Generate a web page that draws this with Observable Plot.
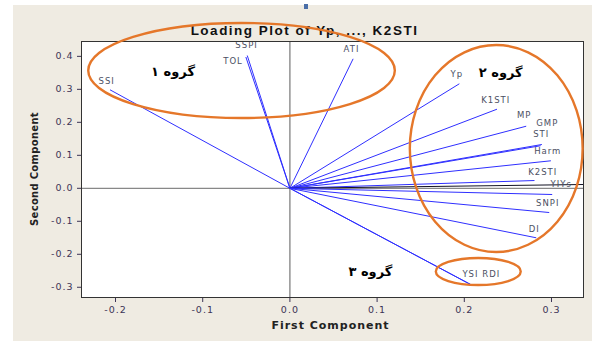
<!DOCTYPE html>
<html>
<head>
<meta charset="utf-8">
<script src="https://cdn.jsdelivr.net/npm/d3@7"></script>
<script src="https://cdn.jsdelivr.net/npm/@observablehq/plot@0.6"></script>
<style>
  html, body { margin: 0; padding: 0; background: #ffffff; }
  #wrap { position: absolute; left: 13px; top: 5px; width: 579px; height: 336px; background: #efebe2; }
  #mark { position: absolute; left: 304px; top: 4px; width: 4px; height: 5px; background: #4a6ea8; }
</style>
</head>
<body>
<div id="wrap"></div>
<div id="mark"></div>
<script>
// ---- data ----
const variables = ["SSI","SSPI","TOL","ATI","Yp","K1STI","MP","GMP","STI","Harm","K2STI","YIYs","YI","SNPI","DI","YSI","RDI"];
const pc1 = [-0.2063,-0.0489,-0.0505,0.0725,0.1943,0.2375,0.2710,0.2890,0.2875,0.2993,0.2805,0.3363,0.3008,0.2974,0.2825,0.2095,0.2085];
const pc2 = [0.2986,0.4025,0.3980,0.3925,0.3168,0.2398,0.1882,0.1328,0.1290,0.0834,0.0236,0.0115,-0.0188,-0.0734,-0.1500,-0.2946,-0.2935];

const labelText = ["SSI","SSPI","TOL","ATI","Yp","K1STI","MP","GMP","STI","Harm","K2STI","YIYs","SNPI","DI","YSI RDI"];
const labelPC1 = [-0.2101,-0.0497,-0.0652,0.0706,0.1914,0.2361,0.2687,0.2951,0.2882,0.2957,0.2899,0.3111,0.2957,0.2802,0.2195];
const labelPC2 = [0.3253,0.4329,0.3859,0.4222,0.3465,0.2677,0.2222,0.1979,0.1646,0.1115,0.0494,0.0115,-0.0446,-0.1234,-0.2613];

const groupNames = ["گروه ۱","گروه ۲","گروه ۳"];
const groupPC1 = [-0.134, 0.2418, 0.0923];
const groupPC2 = [0.3525, 0.351, -0.2522];

// hand-drawn ellipses (centre and radii in data units)
const ellCX = [-0.0549, 0.2372, 0.2166];
const ellCY = [0.3556, 0.1191, -0.2537];
const ellRX = [0.1758, 0.0991, 0.0487];
const ellRY = [0.1440, 0.3137, 0.0409];

const xTicks = [-0.2,-0.1,0.0,0.1,0.2,0.3];
const yTicks = [-0.3,-0.2,-0.1,0.0,0.1,0.2,0.3,0.4];
const xDomain = [-0.239, 0.3367];
const yDomain = [-0.331, 0.445];

const title = "Loading Plot of Yp, ..., K2STI";
const xTitle = "First Component";
const yTitle = "Second Component";

// ---- tables ----
const vectors = variables.map((v, i) => ({name: v, x: pc1[i], y: pc2[i]}));
const labels = labelText.map((t, i) => ({t, x: labelPC1[i], y: labelPC2[i]}));
const groups = groupNames.map((t, i) => ({t, x: groupPC1[i], y: groupPC2[i]}));
const ellipses = ellCX.map((c, i) => ({cx: c, cy: ellCY[i], rx: ellRX[i], ry: ellRY[i]}));

const blue = "#2f2fff";
const ellipseMark = (index, scales) => {
  const g = d3.create("svg:g");
  for (const e of ellipses) {
    const cx = scales.x(e.cx), cy = scales.y(e.cy);
    const rx = Math.abs(scales.x(e.cx + e.rx) - cx);
    const ry = Math.abs(scales.y(e.cy + e.ry) - cy);
    g.append("ellipse")
      .attr("cx", cx).attr("cy", cy).attr("rx", rx).attr("ry", ry)
      .attr("fill", "none").attr("stroke", "#e5772a").attr("stroke-width", 2.4);
  }
  return g.node();
};
const yTitleMark = (index, scales, values, dim) => {
  const cx = dim.marginLeft - 47;
  const cy = (dim.marginTop + dim.height - dim.marginBottom) / 2;
  const t = d3.create("svg:text")
    .attr("transform", `translate(${cx},${cy}) rotate(-90)`)
    .attr("text-anchor", "middle")
    .attr("dy", "0.35em")
    .attr("font-family", "DejaVu Sans")
    .attr("font-size", 10)
    .attr("font-weight", "bold")
    .attr("fill", "#222")
    .style("letter-spacing", "0.3px")
    .text(yTitle);
  return t.node();
};

const plot = Plot.plot({
  width: 579,
  height: 336,
  marginLeft: 68,
  marginRight: 9,
  marginTop: 36,
  marginBottom: 44,
  style: {background: "#efebe2", fontFamily: "DejaVu Sans", fontSize: "9.5px", color: "#3c3456", overflow: "visible"},
  x: {domain: xDomain, ticks: xTicks, tickFormat: d => d.toFixed(1), label: null, tickSize: 5, tickPadding: 4},
  y: {domain: yDomain, ticks: yTicks, tickFormat: d => d.toFixed(1), label: null, tickSize: 4, tickPadding: 4},
  marks: [
    Plot.frame({fill: "white", stroke: "none"}),
    Plot.ruleX([0], {stroke: "#777", strokeWidth: 1.2}),
    Plot.ruleY([0], {stroke: "#888", strokeWidth: 1.2}),
    Plot.link(vectors, {x1: 0, y1: 0, x2: "x", y2: "y",
      stroke: d => d.name === "YIYs" ? "#111122" : blue, strokeWidth: 1}),
    Plot.text(labels, {x: "x", y: "y", text: "t", fill: "#4b4f63", fontSize: 8.5,
      fontFamily: "DejaVu Sans", lineAnchor: "middle"}),
    Plot.text(groups, {x: "x", y: "y", text: "t", fill: "#000", fontSize: 13, fontWeight: "bold",
      fontFamily: "DejaVu Sans", lineAnchor: "middle"}),
    Plot.frame({stroke: "#333", strokeWidth: 1}),
    Plot.text([title], {frameAnchor: "top", dx: -28, dy: -11, fontSize: 13.5, fontWeight: "bold",
      fontFamily: "Liberation Sans", fill: "#111", lineAnchor: "middle"}),
    Plot.text([xTitle], {frameAnchor: "bottom", dx: -2, dy: 28, fontSize: 11, fontWeight: "bold",
      fontFamily: "DejaVu Sans", fill: "#222", lineAnchor: "middle"}),
    yTitleMark,
    ellipseMark
  ]
});
const svg = d3.select(plot);
svg.selectAll("text").filter(function() { return this.textContent !== yTitle; }).style("letter-spacing", "1px");
svg.selectAll("text").filter(function() { return this.textContent === title; }).style("letter-spacing", "1.5px");
document.getElementById("wrap").appendChild(plot);
</script>
</body>
</html>
